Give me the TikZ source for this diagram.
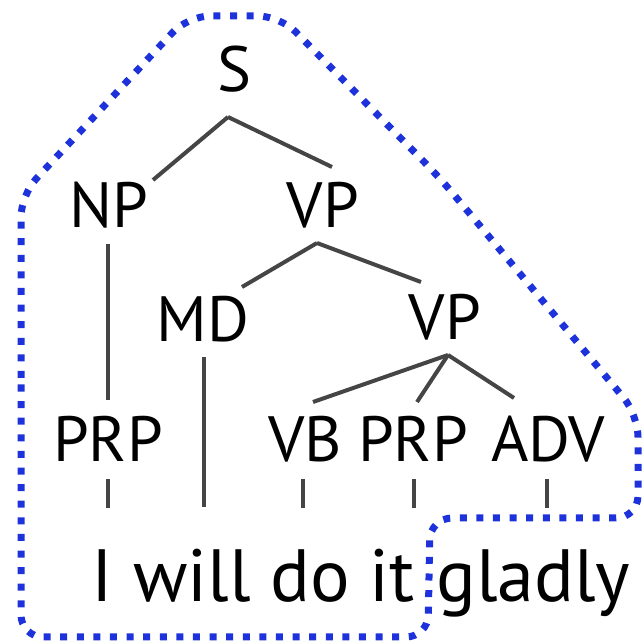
\documentclass[tikz,border=0pt]{standalone}
\usepackage{fontspec}
\setmainfont{PT Sans}
\definecolor{ringblue}{HTML}{1E32DC}
\definecolor{limbgray}{HTML}{454545}

\begin{document}
\begin{tikzpicture}[x=0.5pt, y=-0.5pt,
    tag/.style={inner sep=0pt, anchor=base, font=\fontsize{32}{36}\selectfont},
    word/.style={inner sep=0pt, font=\fontsize{37}{44}\selectfont},
    limb/.style={draw=limbgray, line width=2pt},
    ring/.style={draw=ringblue, line width=3.5pt, dash pattern=on 3.5pt off 4.8pt, rounded corners=11pt}]
    \useasboundingbox (0,0) rectangle (643,641);

    % labels
    \node[tag] (S)    at (234,92)  {S};
    \node[tag] (NP)   at (109,228) {NP};
    \node[tag] (VP1)  at (323,228) {VP};
    \node[tag] (MD)   at (203,342) {MD};
    \node[tag] (VP2)  at (445,340) {VP};
    \node[tag] (PRP1) at (108,462) {PRP};
    \node[tag] (VB)   at (305,462) {VB};
    \node[tag] (PRP2) at (413,462) {PRP};
    \node[tag] (ADV)  at (548,462) {ADV};
    \node[word, anchor=base east] (w1) at (415,602) {I will do it};
    \node[word, anchor=base west] (w2) at (436,602) {gladly};

    % branch points and ends
    \coordinate (S-b)   at (228,117);
    \coordinate (NP-t)  at (153,180);
    \coordinate (VP1-t) at (332,167);
    \coordinate (NP-b)  at (108,244);
    \coordinate (PRP1-t) at (108,400);
    \coordinate (VP1-b) at (317,243);
    \coordinate (MD-t)  at (242,287);
    \coordinate (VP2-t) at (421,282);
    \coordinate (MD-b)  at (204,357);
    \coordinate (MD-e)  at (204,507);
    \coordinate (VP2-b) at (448,355);
    \coordinate (VB-t)  at (313,402);
    \coordinate (PRP2-t) at (417,402);
    \coordinate (ADV-t) at (514,398);

    \draw[limb] (S-b) -- (NP-t);
    \draw[limb] (S-b) -- (VP1-t);
    \draw[limb] (NP-b) -- (PRP1-t);
    \draw[limb] (VP1-b) -- (MD-t);
    \draw[limb] (VP1-b) -- (VP2-t);
    \draw[limb] (MD-b) -- (MD-e);
    \draw[limb] (VP2-b) -- (VB-t);
    \draw[limb] (VP2-b) -- (PRP2-t);
    \draw[limb] (VP2-b) -- (ADV-t);

    % ticks down to the words
    \foreach \x in {108,303,414,547} {
        \coordinate (tk-a\x) at (\x,479);
        \coordinate (tk-b\x) at (\x,508);
        \draw[limb] (tk-a\x) -- (tk-b\x);
    }

    % dotted outline
    \draw[ring] (21,400) -- (21,195) -- (188,16) -- (280,16) -- (440,178)
        -- (638,415) -- (638,518) -- (430,518) -- (428,637) -- (21,637) -- cycle;
\end{tikzpicture}
\end{document}
